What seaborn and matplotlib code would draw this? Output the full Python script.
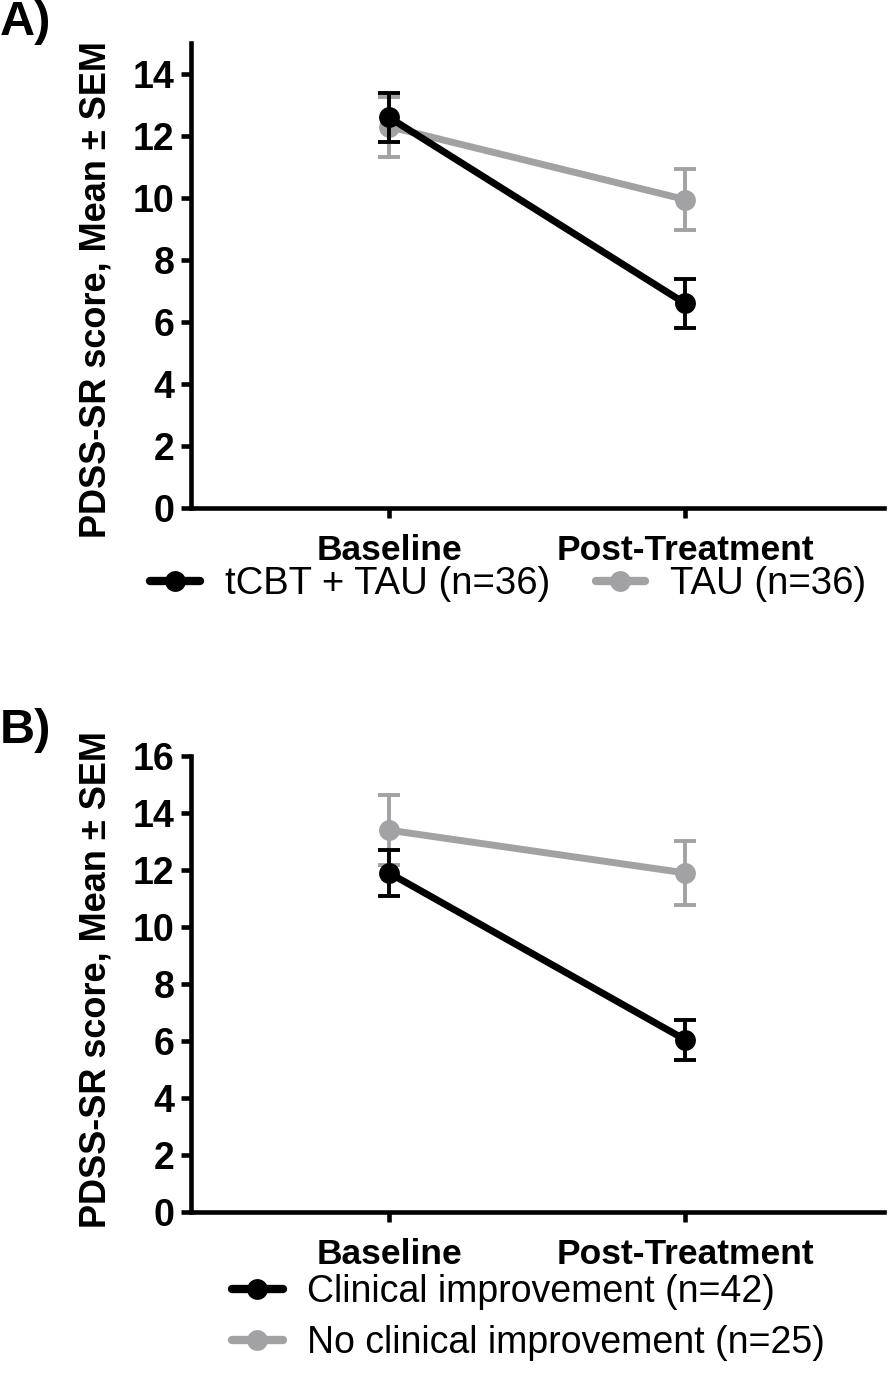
import numpy as np
import pandas as pd
import matplotlib
matplotlib.use("Agg")
import matplotlib.pyplot as plt
from matplotlib.lines import Line2D
import seaborn as sns

# values (PDSS-SR mean and SEM)
timepoints = ["Baseline", "Post-Treatment"]

groups_a = ["tCBT + TAU (n=36)", "TAU (n=36)"]
means_a = [[12.6, 6.6], [12.3, 9.95]]
sems_a = [[0.8, 0.8], [0.97, 0.99]]

groups_b = ["Clinical improvement (n=42)", "No clinical improvement (n=25)"]
means_b = [[11.9, 6.05], [13.4, 11.9]]
sems_b = [[0.8, 0.7], [1.22, 1.12]]

yticks_a = [0, 2, 4, 6, 8, 10, 12, 14]
yticks_b = [0, 2, 4, 6, 8, 10, 12, 14, 16]

colors = ["black", "#A2A2A5"]

sns.set_theme(style="ticks")
plt.rcParams["font.family"] = ["Liberation Sans", "DejaVu Sans"]
plt.rcParams["text.color"] = "black"
plt.rcParams["axes.labelcolor"] = "black"

LW = 5.0
MS = 15
SPINE = 3.3


def draw_panel(ax, groups, means, sems, yticks, ymax):
    x = np.arange(len(timepoints))
    # gray drawn first so black ends up on top
    for i in reversed(range(len(groups))):
        df = pd.DataFrame({"x": x, "y": means[i]})
        sns.lineplot(data=df, x="x", y="y", color=colors[i], lw=LW,
                     marker="o", markersize=MS, markeredgewidth=0,
                     ax=ax, zorder=10 - 2 * i, legend=False)
        ax.errorbar(x, means[i], yerr=sems[i], fmt="none", ecolor=colors[i],
                    elinewidth=2.8, capsize=8, capthick=2.8,
                    zorder=9 - 2 * i)
    ax.set_xlim(-0.669, 1.672)
    ax.set_ylim(0, ymax)
    ax.set_xticks(x)
    ax.set_xticklabels(timepoints, fontsize=25.5, fontweight="bold")
    ax.set_yticks(yticks)
    ax.set_yticklabels([str(t) for t in yticks], fontsize=27, fontweight="bold")
    ax.set_xlabel("")
    ax.set_ylabel("PDSS-SR score, Mean \u00b1 SEM", fontsize=26,
                  fontweight="bold", color="black")
    sns.despine(ax=ax)
    for s in ["left", "bottom"]:
        ax.spines[s].set_linewidth(SPINE)
        ax.spines[s].set_color("black")
    ax.tick_params(axis="y", length=7, width=SPINE, pad=5, colors="black")
    ax.tick_params(axis="x", length=7, width=SPINE, pad=12, colors="black")
    ax.grid(False)


def handles_for(groups):
    return [Line2D([0], [0], color=colors[i], lw=LW + 1, marker="o",
                   markersize=MS, markeredgewidth=0) for i in range(len(groups))]


fig = plt.figure(figsize=(8.93, 13.86), dpi=100)
ax_a = fig.add_axes([0.2139, 0.6335, 0.776, 0.3355])
ax_b = fig.add_axes([0.2139, 0.1255, 0.776, 0.329])

draw_panel(ax_a, groups_a, means_a, sems_a, yticks_a, 15)
draw_panel(ax_b, groups_b, means_b, sems_b, yticks_b, 16)

ax_a.yaxis.set_label_coords(-0.112, 0.47)
ax_b.yaxis.set_label_coords(-0.112, 0.51)

fig.text(0.0, 1.0, "A)", fontsize=35, fontweight="bold", va="top", ha="left",
         color="black")
fig.text(0.0, 1 - 708 / 1386, "B)", fontsize=35, fontweight="bold", va="top",
         ha="left", color="black")

leg_a = fig.legend(handles_for(groups_a), groups_a, loc="center left",
                   bbox_to_anchor=(0.168, 1 - 584 / 1386), ncol=2, frameon=False,
                   fontsize=27.5, handlelength=1.3, handletextpad=0.65,
                   columnspacing=1.2, borderpad=0, borderaxespad=0)
leg_b = fig.legend(handles_for(groups_b), groups_b, loc="upper left",
                   bbox_to_anchor=(0.26, 1 - 1274 / 1386), ncol=1, frameon=False,
                   fontsize=27, handlelength=1.35, handletextpad=0.65,
                   labelspacing=0.4, borderpad=0, borderaxespad=0)
for leg in (leg_a, leg_b):
    for t in leg.get_texts():
        t.set_color("black")

fig.savefig("out.png", dpi=100, facecolor="white")
